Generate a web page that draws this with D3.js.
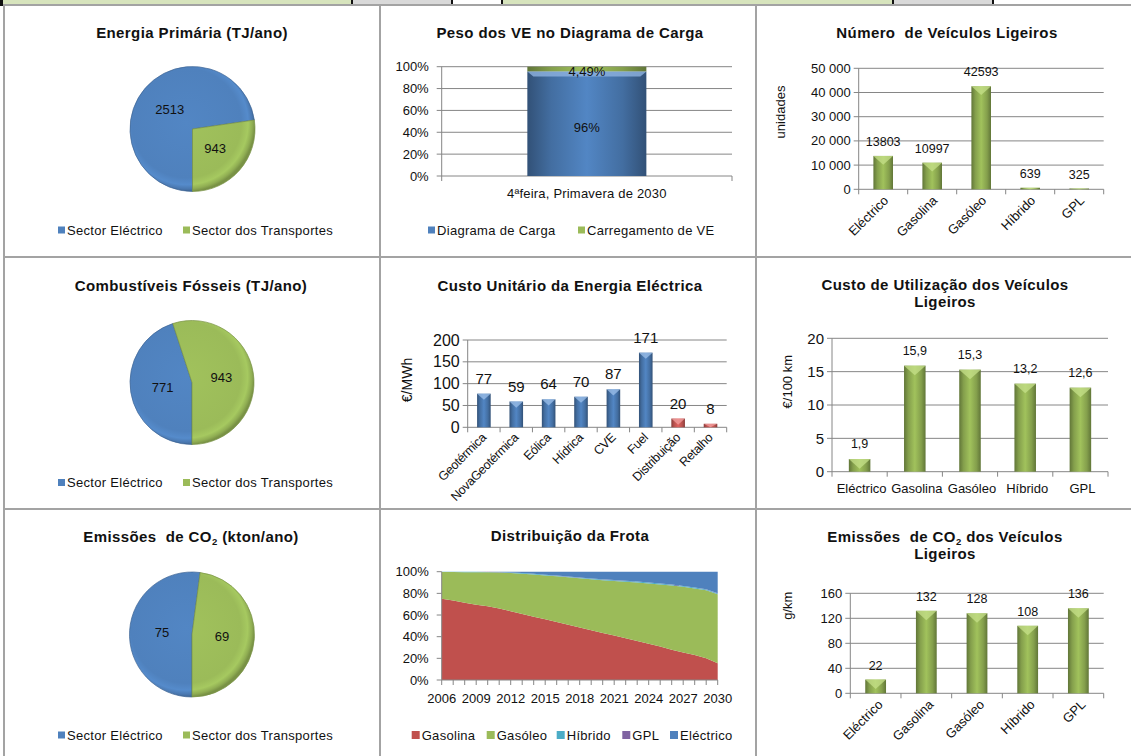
<!DOCTYPE html>
<html><head><meta charset="utf-8">
<script src="https://cdn.jsdelivr.net/npm/d3@7"></script>
<style>body{margin:0;background:#fff;} svg{display:block;font-family:"Liberation Sans",Arial,sans-serif;} text{white-space:pre;}</style>
</head><body><svg id="c" width="1131" height="756"></svg>
<script>
// ---------------- DATA ----------------
const pieLegend = ["Sector Eléctrico", "Sector dos Transportes"];
const energiaPrimaria = [2513, 943];
const combustiveisFosseis = [771, 943];
const emissoesCO2 = [75, 69];

const pesoCategory = ["4ªfeira, Primavera de 2030"];
const pesoSeries = ["Diagrama de Carga", "Carregamento de VE"];
const pesoValues = [95.51, 4.49];
const pesoLabels = ["96%", "4,49%"];
const pctTicks = [0, 20, 40, 60, 80, 100];

const vehicleTypes = ["Eléctrico", "Gasolina", "Gasóleo", "Híbrido", "GPL"];
const numeroVeiculos = [13803, 10997, 42593, 639, 325];
const numeroTicks = [0, 10000, 20000, 30000, 40000, 50000];
const custoUtilizacao = [1.9, 15.9, 15.3, 13.2, 12.6];
const custoUtilTicks = [0, 5, 10, 15, 20];
const emissoesVeiculos = [22, 132, 128, 108, 136];
const emissoesTicks = [0, 40, 80, 120, 160];

const energySources = ["Geotérmica", "NovaGeotérmica", "Eólica", "Hídrica", "CVE", "Fuel", "Distribuição", "Retalho"];
const custoUnitario = [77, 59, 64, 70, 87, 171, 20, 8];
const custoUnitTicks = [0, 50, 100, 150, 200];

const years = [2006,2007,2008,2009,2010,2011,2012,2013,2014,2015,2016,2017,2018,2019,2020,2021,2022,2023,2024,2025,2026,2027,2028,2029,2030];
const yearTicks = [2006,2009,2012,2015,2018,2021,2024,2027,2030];
const frotaSeries = ["Gasolina", "Gasóleo", "Híbrido", "GPL", "Eléctrico"];
const frotaGasolina = [75,73.5,71.5,69.5,68,66,63.5,61,58.5,56,53.5,51,48.5,46,43.5,41,38.5,36,33.5,31,28,25.5,23,20,15.5];
const frotaGasoleo  = [24.8,26.3,28.2,30.1,31.5,33.2,35.3,37.2,39,40.6,42.2,43.8,45.4,47,48.7,50.5,52.3,54.1,55.7,57.2,59.2,60.5,61.6,62.8,63.6];
const frotaHibrido  = [0.2,0.2,0.3,0.3,0.3,0.4,0.4,0.5,0.5,0.5,0.6,0.6,0.6,0.7,0.7,0.7,0.7,0.8,0.8,0.8,0.8,0.8,0.8,0.8,0.8];
const frotaGPL      = [0.1,0.1,0.1,0.1,0.1,0.1,0.1,0.1,0.1,0.1,0.1,0.1,0.1,0.1,0.1,0.1,0.1,0.1,0.1,0.1,0.1,0.1,0.1,0.1,0.1];
const frotaElectrico= [0,0,0,0,0.1,0.3,0.7,1.2,1.9,2.8,3.6,4.5,5.4,6.2,7,7.7,8.4,9,9.9,10.9,11.9,13.1,14.5,16.3,20];

// ---------------- STYLE ----------------
const C = {blue:"#4f81bd", green:"#9bbb59", red:"#c0504d", cyan:"#4bacc6", purple:"#8064a2", grid:"#868686", border:"#a3a3a3"};
const svg = d3.select("#c");
const defs = svg.append("defs");

function barGrad(id, base) {
  const b = d3.color(base);
  const g = defs.append("linearGradient").attr("id", id).attr("x1", 0).attr("x2", 1).attr("y1", 0).attr("y2", 0);
  [[0, b.darker(1.3)], [0.2, b.darker(0.45)], [0.5, b.brighter(0.1)], [0.8, b.darker(0.45)], [1, b.darker(1.3)]]
    .forEach(([o, c]) => g.append("stop").attr("offset", o).attr("stop-color", c.formatHex()));
}
function pieGrad(id, base, r) {
  const b = d3.color(base);
  const g = defs.append("radialGradient").attr("id", id).attr("gradientUnits", "userSpaceOnUse")
    .attr("cx", -6).attr("cy", -6).attr("r", r + 6);
  [[0, b.brighter(0.1)], [0.8, b], [0.9, b.brighter(0.2)], [0.96, b.darker(0.2)], [1, b.darker(0.7)]]
    .forEach(([o, c]) => g.append("stop").attr("offset", o).attr("stop-color", c.formatHex()));
}
barGrad("bgGreen", C.green); barGrad("bgBlue", C.blue); barGrad("bgRed", "#d8605d");
pieGrad("pgBlue", C.blue, 62.5); pieGrad("pgGreen", C.green, 62.5);

// ---------------- SHEET BACKGROUND ----------------
const strip = [[0,352,"#d7e4bd"],[352,452,"#d9d9d9"],[452,502,"#ffffff"],[502,893,"#d7e4bd"],[893,993,"#d9d9d9"],[993,1131,"#ffffff"]];
strip.forEach(([a,b,c]) => svg.append("rect").attr("x", a).attr("y", 0).attr("width", b-a).attr("height", 4).attr("fill", c));
[352,452,502,893,993].forEach(x => svg.append("rect").attr("x", x-1).attr("y", 0).attr("width", 2).attr("height", 4).attr("fill", "#111"));
svg.append("rect").attr("x", 0).attr("y", 0).attr("width", 3).attr("height", 6).attr("fill", "#111");
[4, 380, 756].forEach(x => svg.append("line").attr("x1", x).attr("x2", x).attr("y1", 4).attr("y2", 756).attr("stroke", C.border).attr("stroke-width", 2));
[5, 257, 509].forEach(y => svg.append("line").attr("x1", 3).attr("x2", 1131).attr("y1", y).attr("y2", y).attr("stroke", C.border).attr("stroke-width", 2));

// ---------------- HELPERS ----------------
function title(lines, cx, y0, fs) {
  lines.forEach((ln, i) => {
    const t = svg.append("text").attr("x", cx).attr("y", y0 + i * 17).attr("text-anchor", "middle")
      .attr("font-weight", "bold").attr("font-size", fs || 15).attr("fill", "#111").attr("letter-spacing", 0.4);
    ln.forEach(p => {
      if (p.sub) t.append("tspan").attr("font-size", 9.5).attr("dy", 2.5).text(p.sub);
      else t.append("tspan").attr("dy", p.after ? -2.5 : 0).text(p.t);
    });
  });
}
function legend(items, y, fs, sq) {
  items.forEach(it => {
    svg.append("rect").attr("x", it.x).attr("y", y - sq/2).attr("width", sq).attr("height", sq).attr("fill", it.c);
    svg.append("text").attr("x", it.x + sq + 2).attr("y", y).attr("dy", "0.35em").attr("font-size", fs).attr("letter-spacing", 0.3).attr("fill", "#111").text(it.label);
  });
}

function pieChart(cx, cy, r, values, labelFs) {
  const pie = d3.pie().sort(null).startAngle(Math.PI).endAngle(3 * Math.PI);
  const arcs = pie(values);
  const arc = d3.arc().innerRadius(0).outerRadius(r);
  const lab = d3.arc().innerRadius(r * 0.48).outerRadius(r * 0.48);
  const g = svg.append("g").attr("transform", `translate(${cx},${cy})`);
  const fills = ["url(#pgBlue)", "url(#pgGreen)"];
  g.selectAll("path").data(arcs).join("path").attr("d", arc).attr("fill", (d, i) => fills[i])
    .attr("stroke", (d, i) => d3.color(i ? C.green : C.blue).darker(0.7)).attr("stroke-width", 0.7);
  g.selectAll("text").data(arcs).join("text").attr("transform", d => `translate(${lab.centroid(d)})`)
    .attr("text-anchor", "middle").attr("dy", "0.35em").attr("font-size", labelFs || 13).attr("fill", "#111")
    .text(d => d.data);
}

function barChart(o) {
  const x = d3.scaleBand().domain(o.cats).range([o.x0, o.x1]);
  const y = d3.scaleLinear().domain([0, o.max]).range([o.yB, o.yT]);
  const g = svg.append("g");
  o.ticks.forEach(t => {
    g.append("line").attr("x1", o.x0 - 5).attr("x2", o.x1).attr("y1", y(t)).attr("y2", y(t)).attr("stroke", C.grid).attr("stroke-width", 1);
    g.append("text").attr("x", o.x0 - 8).attr("y", y(t)).attr("dy", "0.35em").attr("text-anchor", "end")
      .attr("font-size", o.tickFs).attr("fill", "#111").text(o.tickFmt(t));
  });
  g.append("line").attr("x1", o.x0).attr("x2", o.x0).attr("y1", y(o.max)).attr("y2", o.yB).attr("stroke", C.grid);
  o.cats.forEach((c, i) => {
    const xx = o.x0 + i * x.step();
    g.append("line").attr("x1", xx).attr("x2", xx).attr("y1", o.yB).attr("y2", o.yB + 5).attr("stroke", C.grid);
  });
  g.append("line").attr("x1", o.x1).attr("x2", o.x1).attr("y1", o.yB).attr("y2", o.yB + 5).attr("stroke", C.grid);
  const bw = x.bandwidth() * o.frac;
  o.cats.forEach((c, i) => {
    const v = o.vals[i];
    const bx = x(c) + (x.bandwidth() - bw) / 2, by = y(v), bh = o.yB - y(v);
    const col = o.colorOf(i);
    g.append("rect").attr("x", bx).attr("y", by).attr("width", bw).attr("height", bh).attr("fill", col.grad);
    const cap = Math.min(bw * 0.45, bh);
    g.append("path").attr("d", `M${bx},${by}L${bx + bw},${by}L${bx + bw/2},${by + cap}Z`).attr("fill", col.light).attr("opacity", 0.75);
    g.append("text").attr("x", x(c) + x.bandwidth() / 2).attr("y", by - o.labOff).attr("text-anchor", "middle")
      .attr("font-size", o.labFs).attr("fill", "#111").text(o.labFmt(v));
    if (o.rotate) {
      g.append("text").attr("transform", `translate(${x(c) + x.bandwidth()/2 + o.rdx},${o.yB + o.rdy}) rotate(-45)`)
        .attr("text-anchor", "end").attr("font-size", o.xFs).attr("fill", "#111").attr("letter-spacing", o.xLs || 0).text(c);
    } else {
      g.append("text").attr("x", x(c) + x.bandwidth() / 2 + 2).attr("y", o.yB + o.hdy).attr("text-anchor", "middle")
        .attr("font-size", o.xFs).attr("fill", "#111").text(c);
    }
  });
  svg.append("text").attr("transform", `translate(${o.ytX},${o.ytY}) rotate(-90)`).attr("text-anchor", "middle")
    .attr("dy", "0.35em").attr("font-size", o.ytFs || 13).attr("fill", "#111").text(o.ytitle);
}
const greenCol = () => ({grad: "url(#bgGreen)", light: "#c6e08a"});
const fmtComma = d3.formatLocale({decimal: ",", thousands: " ", grouping: [3], currency: ["", "€"]});
const fmtThousands = fmtComma.format(",d");

// ---------------- PANEL 1, 4, 7: PIES ----------------
title([[{t: "Energia Primária (TJ/ano)"}]], 192, 38);
pieChart(192.5, 129, 62.5, energiaPrimaria);
legend([{x: 58, c: C.blue, label: pieLegend[0]}, {x: 183, c: C.green, label: pieLegend[1]}], 230, 13, 7);

title([[{t: "Combustíveis Fósseis (TJ/ano)"}]], 191, 291);
pieChart(192, 382.5, 62, combustiveisFosseis);
legend([{x: 58, c: C.blue, label: pieLegend[0]}, {x: 183, c: C.green, label: pieLegend[1]}], 482.5, 13, 7);

title([[{t: "Emissões  de CO"}, {sub: "2"}, {t: " (kton/ano)", after: true}]], 191, 542);
pieChart(192, 634.5, 62.5, emissoesCO2);
legend([{x: 58, c: C.blue, label: pieLegend[0]}, {x: 183, c: C.green, label: pieLegend[1]}], 735, 13, 7);

// ---------------- PANEL 2: STACKED 100% BAR ----------------
(function () {
  const x0 = 441.7, x1 = 732, yT = 66.7, yB = 176;
  title([[{t: "Peso dos VE no Diagrama de Carga"}]], 570, 38);
  const x = d3.scaleBand().domain(pesoCategory).range([x0, x1]);
  const y = d3.scaleLinear().domain([0, 100]).range([yB, yT]);
  pctTicks.forEach(t => {
    svg.append("line").attr("x1", x0 - 5).attr("x2", x1).attr("y1", y(t)).attr("y2", y(t)).attr("stroke", C.grid);
    svg.append("text").attr("x", x0 - 13).attr("y", y(t)).attr("dy", "0.35em").attr("text-anchor", "end").attr("font-size", 13).attr("fill", "#111").text(t + "%");
  });
  svg.append("line").attr("x1", x0).attr("x2", x0).attr("y1", yT).attr("y2", yB).attr("stroke", C.grid);
  [x0, x1].forEach(xx => svg.append("line").attr("x1", xx).attr("x2", xx).attr("y1", yB).attr("y2", yB + 5).attr("stroke", C.grid));
  const stack = d3.stack().keys([0, 1]).value((d, k) => d[k])([pesoValues]);
  const bw = x.bandwidth() * 0.41, bx = x(pesoCategory[0]) + (x.bandwidth() - bw) / 2;
  const grads = ["url(#bgBlue)", "url(#bgGreen)"];
  stack.forEach((s, i) => {
    const d = s[0];
    svg.append("rect").attr("x", bx).attr("y", y(d[1])).attr("width", bw).attr("height", y(d[0]) - y(d[1])).attr("fill", grads[i]);
  });
  const d0 = stack[0][0];
  svg.append("path").attr("d", `M${bx},${y(d0[1])}L${bx + bw},${y(d0[1])}L${bx + bw - 6},${y(d0[1]) + 5}L${bx + 6},${y(d0[1]) + 5}Z`).attr("fill", "#8fb3e0").attr("opacity", 0.8);
  svg.append("text").attr("x", bx + bw / 2).attr("y", (y(d0[0]) + y(d0[1])) / 2 + 4).attr("dy", "0.35em").attr("text-anchor", "middle").attr("font-size", 13).attr("fill", "#111").text(pesoLabels[0]);
  svg.append("text").attr("x", bx + bw / 2).attr("y", y(stack[1][0][1]) + 5).attr("dy", "0.35em").attr("text-anchor", "middle").attr("font-size", 13).attr("fill", "#111").text(pesoLabels[1]);
  svg.append("text").attr("x", (x0 + x1) / 2).attr("y", 193).attr("dy", "0.35em").attr("text-anchor", "middle").attr("font-size", 13).attr("letter-spacing", 0.2).attr("fill", "#111").text(pesoCategory[0]);
  legend([{x: 428, c: C.blue, label: pesoSeries[0]}, {x: 578, c: C.green, label: pesoSeries[1]}], 230, 13, 7);
})();

// ---------------- PANEL 3: NUMERO DE VEICULOS ----------------
title([[{t: "Número  de Veículos Ligeiros"}]], 947, 38);
barChart({cats: vehicleTypes, vals: numeroVeiculos, x0: 858.7, x1: 1103.7, yT: 68.3, yB: 189.3, max: 50000, ticks: numeroTicks,
  tickFmt: fmtThousands, tickFs: 13, frac: 0.4, colorOf: greenCol, labFs: 12.5, labOff: 10, labFmt: d => String(d),
  rotate: true, rdx: 6, rdy: 12, xFs: 13, ytitle: "unidades", ytX: 780, ytY: 112});

// ---------------- PANEL 5: CUSTO UNITARIO ----------------
title([[{t: "Custo Unitário da Energia Eléctrica"}]], 570, 291);
barChart({cats: energySources, vals: custoUnitario, x0: 467.7, x1: 726.7, yT: 340, yB: 427.3, max: 200, ticks: custoUnitTicks,
  tickFmt: d => String(d), tickFs: 16, frac: 0.42,
  colorOf: i => i < 6 ? {grad: "url(#bgBlue)", light: "#9dc0ea"} : {grad: "url(#bgRed)", light: "#f2a0a0"},
  labFs: 15, labOff: 10, labFmt: d => String(d), rotate: true, rdx: 3, rdy: 11, xFs: 12.5, xLs: -0.3,
  ytitle: "€/MWh", ytX: 406.7, ytY: 380, ytFs: 14});

// ---------------- PANEL 6: CUSTO DE UTILIZACAO ----------------
title([[{t: "Custo de Utilização dos Veículos"}], [{t: "Ligeiros"}]], 945, 290);
barChart({cats: vehicleTypes, vals: custoUtilizacao, x0: 832, x1: 1108, yT: 338.3, yB: 471.7, max: 20, ticks: custoUtilTicks,
  tickFs: 15, tickFmt: d => String(d), frac: 0.39, colorOf: greenCol, labFs: 12.5, labOff: 11,
  labFmt: d => fmtComma.format(".1f")(d), rotate: false, hdy: 21, xFs: 13, ytitle: "€/100 km", ytX: 787, ytY: 381.7});

// ---------------- PANEL 8: DISTRIBUICAO DA FROTA ----------------
(function () {
  const x0 = 441.7, x1 = 717.7, yT = 571.7, yB = 680;
  title([[{t: "Distribuição da Frota"}]], 570, 541);
  const x = d3.scaleLinear().domain([years[0], years[years.length - 1]]).range([x0, x1]);
  const y = d3.scaleLinear().domain([0, 1]).range([yB, yT]);
  const rows = years.map((yr, i) => ({year: yr, "Gasolina": frotaGasolina[i], "Gasóleo": frotaGasoleo[i], "Híbrido": frotaHibrido[i], "GPL": frotaGPL[i], "Eléctrico": frotaElectrico[i]}));
  const series = d3.stack().keys(frotaSeries).offset(d3.stackOffsetExpand)(rows);
  const cols = [C.red, C.green, C.cyan, C.purple, C.blue];
  const area = d3.area().x(d => x(d.data.year)).y0(d => y(d[0])).y1(d => y(d[1]));
  svg.append("g").selectAll("path").data(series).join("path").attr("d", area).attr("fill", (d, i) => cols[i]);
  [0, 0.2, 0.4, 0.6, 0.8, 1].forEach(t => {
    svg.append("line").attr("x1", x0 - 5).attr("x2", x0).attr("y1", y(t)).attr("y2", y(t)).attr("stroke", C.grid);
    svg.append("text").attr("x", x0 - 13).attr("y", y(t)).attr("dy", "0.35em").attr("text-anchor", "end").attr("font-size", 13).attr("fill", "#111").text(Math.round(t * 100) + "%");
  });
  svg.append("line").attr("x1", x0).attr("x2", x0).attr("y1", yT).attr("y2", yB).attr("stroke", C.grid);
  svg.append("line").attr("x1", x0).attr("x2", x1).attr("y1", yB).attr("y2", yB).attr("stroke", C.grid);
  years.forEach(yr => svg.append("line").attr("x1", x(yr)).attr("x2", x(yr)).attr("y1", yB).attr("y2", yB + 5).attr("stroke", C.grid));
  yearTicks.forEach(yr => svg.append("text").attr("x", x(yr)).attr("y", 698.3).attr("dy", "0.35em").attr("text-anchor", "middle").attr("font-size", 13).attr("fill", "#111").text(yr));
  const lx = [411.7, 486.7, 556.7, 622.3, 670];
  legend(frotaSeries.map((s, i) => ({x: lx[i], c: cols[i], label: s})), 735, 13, 8);
})();

// ---------------- PANEL 9: EMISSOES DOS VEICULOS ----------------
title([[{t: "Emissões  de CO"}, {sub: "2"}, {t: " dos Veículos", after: true}], [{t: "Ligeiros"}]], 945, 542);
barChart({cats: vehicleTypes, vals: emissoesVeiculos, x0: 850.3, x1: 1103.7, yT: 593.3, yB: 693.3, max: 160, ticks: emissoesTicks,
  tickFmt: d => String(d), tickFs: 13, frac: 0.41, colorOf: greenCol, labFs: 12.5, labOff: 10, labFmt: d => String(d),
  rotate: true, rdx: 8, rdy: 12, xFs: 13, ytitle: "g/km", ytX: 787, ytY: 605.7});
</script></body></html>
